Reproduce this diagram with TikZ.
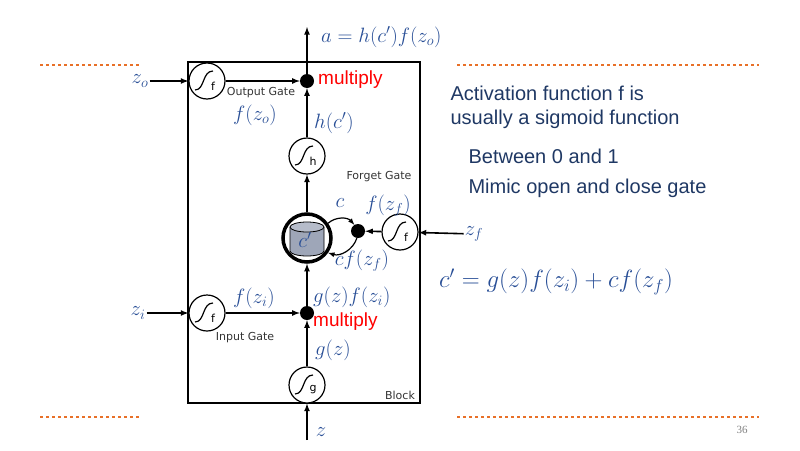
\documentclass[tikz,border=0pt]{standalone}
\usepackage{fontspec}
\setmainfont{Liberation Sans}
\newfontfamily\pagefont{Liberation Serif}
\newfontfamily\gatefont{DejaVu Sans}
\usepackage{tikz}
\usetikzlibrary{calc}
\definecolor{mathblue}{RGB}{40,78,150}
\definecolor{textnavy}{RGB}{31,56,100}
\definecolor{dashorange}{RGB}{232,112,40}
\definecolor{cellgrey}{RGB}{158,166,184}

\begin{document}
\begin{tikzpicture}[x=1pt,y=-1pt,
  gate/.style={draw,circle,line width=1.2pt,minimum size=36pt,inner sep=0pt,fill=white},
  dot/.style={circle,fill=black,minimum size=14pt,inner sep=0pt},
  lbl/.style={text=mathblue,font=\fontsize{21}{22}\selectfont,inner sep=1pt},
  multlbl/.style={text=red,font=\fontsize{19}{20}\selectfont,anchor=west,inner sep=0pt},
  gatelbl/.style={text=black!80,font=\gatefont\fontsize{11}{12}\selectfont},
  slide/.style={text=textnavy,anchor=west,align=left,font=\fontsize{20}{24}\selectfont},
  arr/.style={-latex,line width=1.6pt}]
\useasboundingbox (0,0) rectangle (800,450);

\draw[dashorange,dashed,line width=1.3pt] (40,65) -- (141,65);
\draw[dashorange,dashed,line width=1.3pt] (457,65) -- (759,65);
\draw[dashorange,dashed,line width=1.3pt] (40,417) -- (141,417);
\draw[dashorange,dashed,line width=1.3pt] (457,417) -- (759,417);

\draw[line width=2pt] (188,62) rectangle (420,403);

\node[gate] (og) at (207,81) {};
\node[gate] (ig) at (207,313) {};
\node[gate] (hg) at (307,156) {};
\node[gate] (fg) at (400,232) {};
\node[gate] (gg) at (307,385) {};
\foreach \g/\l in {og/f,ig/f,hg/h,fg/f,gg/g} {
  \draw[line width=1.2pt] ($(\g)+(-12,9)$) .. controls ($(\g)+(-2,9)$) and ($(\g)+(-5,-10)$) .. ($(\g)+(6,-10)$);
  \node[font=\gatefont\fontsize{11}{11}\selectfont,inner sep=0pt] at ($(\g)+(6,5)$) {\l};
}

\node[dot] (om) at (307,81) {};
\node[dot] (im) at (307,313) {};
\node[dot] (fm) at (358,231) {};

% memory cell
\node[circle,draw,line width=3.5pt,minimum size=48pt] (cell) at (307,238) {};
\fill[cellgrey] ($(cell)+(-17,-11)$) -- ($(cell)+(-17,13)$)
  arc[start angle=180,end angle=360,x radius=17pt,y radius=5pt] -- ($(cell)+(17,-11)$)
  arc[start angle=0,end angle=180,x radius=17pt,y radius=5pt] -- cycle;
\draw[line width=0.8pt] ($(cell)+(-17,-11)$) -- ($(cell)+(-17,13)$)
  arc[start angle=180,end angle=360,x radius=17pt,y radius=5pt] -- ($(cell)+(17,-11)$);
\draw[line width=0.8pt,fill=cellgrey!75] ($(cell)+(0,-11)$) ellipse[x radius=17pt,y radius=5pt];
\node[lbl] at ($(cell)+(-2,2)$) {$c'$};

% inputs
\node[lbl] (zo) at (140,81) {$z_o$};
\node[lbl] (zi) at (138,313) {$z_i$};
\node[lbl] (zf) at (474,234) {$z_f$};
\node[lbl] (z) at (321,432) {$z$};
\coordinate (zin) at (307,440);
\coordinate (aout) at (307,27);

\draw[arr] (zo) -- (og);
\draw[arr] (og) -- (om);
\draw[arr] (zi) -- (ig);
\draw[arr] (ig) -- (im);
\draw[arr] (zin) -- (gg);
\draw[arr] (gg) -- (im);
\draw[arr] (im) -- (cell);
\draw[arr] (cell) -- (hg);
\draw[arr] (hg) -- (om);
\draw[arr] (om) -- (aout);
\draw[arr] (zf) -- (fg);
\draw[arr] (fg) -- (fm);
\draw[arr,line width=1.2pt] (cell.35) to[bend left=45] (fm);
\draw[arr,line width=1.2pt] (fm) to[bend left=45] (cell.-35);

% labels
\node[lbl,anchor=west] at (320,37) {$a=h(c')f(z_o)$};
\node[multlbl] at (318,80) {multiply};
\node[gatelbl] at (261,93) {Output Gate};
\node[lbl] at (255,115) {$f(z_o)$};
\node[lbl,anchor=west] at (313,123) {$h(c')$};
\node[gatelbl] at (379,177) {Forget Gate};
\node[lbl] at (340,203) {$c$};
\node[lbl] at (388,206) {$f\big(z_f\big)$};
\node[lbl] at (362,261) {$cf\big(z_f\big)$};
\node[lbl] at (254,298) {$f(z_i)$};
\node[lbl,anchor=west] at (312,297) {$g(z)f(z_i)$};
\node[multlbl] at (313,322) {multiply};
\node[gatelbl] at (245,338) {Input Gate};
\node[lbl,anchor=west] at (314,350) {$g(z)$};
\node[gatelbl] at (400,395) {Block};

% right side text
\node[slide] at (447,107) {Activation function f is\\usually a sigmoid function};
\node[slide] at (465,156) {Between 0 and 1};
\node[slide] at (465,188) {Mimic open and close gate};
\node[lbl,anchor=west,font=\fontsize{26}{28}\selectfont] at (438,282) {$c'=g(z)f(z_i)+cf\big(z_f\big)$};
\node[text=gray,font=\pagefont\fontsize{11}{12}\selectfont] at (742,430) {36};
\end{tikzpicture}
\end{document}
